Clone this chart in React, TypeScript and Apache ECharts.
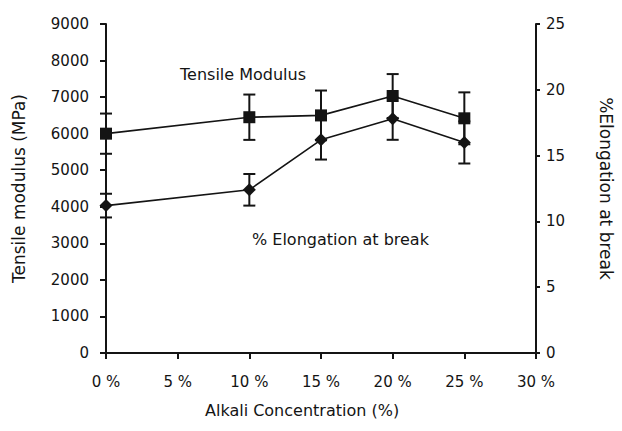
import React, { useEffect, useRef } from "react";
import * as echarts from "echarts";

const concentrations = [0, 10, 15, 20, 25];
const tensileModulus = [6000, 6450, 6500, 7030, 6420];
const tensileError = [550, 620, 680, 600, 710];
const elongation = [11.2, 12.4, 16.2, 17.8, 16.0];
const elongationError = [0.9, 1.2, 1.5, 1.6, 1.6];

const FONT = "DejaVu Sans, Liberation Sans, sans-serif";
const INK = "#141414";

function errorBarItem(params: any, api: any) {
  const x = api.value(0);
  const y = api.value(1);
  const e = api.value(2);
  const top = api.coord([x, y + e]);
  const bottom = api.coord([x, y - e]);
  const hw = 6;
  const style = { stroke: INK, lineWidth: 2 };
  return {
    type: "group",
    children: [
      { type: "line", shape: { x1: top[0], y1: top[1], x2: bottom[0], y2: bottom[1] }, style },
      { type: "line", shape: { x1: top[0] - hw, y1: top[1], x2: top[0] + hw, y2: top[1] }, style },
      { type: "line", shape: { x1: bottom[0] - hw, y1: bottom[1], x2: bottom[0] + hw, y2: bottom[1] }, style },
    ],
  };
}

export default function App() {
  const ref = useRef<HTMLDivElement>(null);
  useEffect(() => {
    if (!ref.current) return;
    const chart = echarts.init(ref.current, undefined, { renderer: "svg" });
    const axisLine = { show: true, lineStyle: { color: INK, width: 2 } };
    const axisTick = { show: true, length: 6, lineStyle: { color: INK, width: 2 } };
    const labelStyle = { color: INK, fontSize: 15, fontFamily: FONT };
    const nameStyle = { color: INK, fontSize: 17, fontFamily: FONT };
    chart.setOption({
      animation: false,
      backgroundColor: "#fff",
      grid: { left: 106, right: 69, top: 24, bottom: 78, containLabel: false },
      xAxis: {
        type: "value",
        min: 0,
        max: 30,
        interval: 5,
        axisLine,
        axisTick,
        splitLine: { show: false },
        axisLabel: { ...labelStyle, margin: 21, formatter: (v: number) => `${v} %` },
      },
      yAxis: [
        {
          type: "value",
          min: 0,
          max: 9000,
          interval: 1000,
          position: "left",
          axisLine,
          axisTick,
          splitLine: { show: false },
          axisLabel: { ...labelStyle, margin: 17, formatter: (v: number) => String(v) },
          name: "Tensile modulus (MPa)",
          nameLocation: "middle",
          nameRotate: 90,
          nameGap: 79,
          nameTextStyle: nameStyle,
        },
        {
          type: "value",
          min: 0,
          max: 25,
          interval: 5,
          position: "right",
          axisLine,
          axisTick: { ...axisTick, length: 4 },
          splitLine: { show: false },
          axisLabel: { ...labelStyle, margin: 10, formatter: (v: number) => String(v) },
          name: "%Elongation at break",
          nameLocation: "middle",
          nameRotate: -90,
          nameGap: 61,
          nameTextStyle: nameStyle,
        },
      ],
      series: [
        {
          type: "custom",
          name: "Tensile error",
          yAxisIndex: 0,
          renderItem: errorBarItem,
          data: concentrations.map((c, i) => [c, tensileModulus[i], tensileError[i]]),
          z: 1,
          silent: true,
        },
        {
          type: "custom",
          name: "Elongation error",
          yAxisIndex: 1,
          renderItem: errorBarItem,
          data: concentrations.map((c, i) => [c, elongation[i], elongationError[i]]),
          z: 1,
          silent: true,
        },
        {
          type: "line",
          name: "Tensile Modulus",
          yAxisIndex: 0,
          data: concentrations.map((c, i) => [c, tensileModulus[i]]),
          symbol: "rect",
          symbolSize: 12,
          lineStyle: { color: INK, width: 1.6 },
          itemStyle: { color: INK },
          z: 3,
        },
        {
          type: "line",
          name: "% Elongation at break",
          yAxisIndex: 1,
          data: concentrations.map((c, i) => [c, elongation[i]]),
          symbol: "diamond",
          symbolSize: 13,
          lineStyle: { color: INK, width: 1.6 },
          itemStyle: { color: INK },
          z: 3,
        },
      ],
      graphic: [
        {
          type: "text",
          left: 180,
          top: 66,
          style: { text: "Tensile Modulus", fill: INK, fontSize: 16, fontFamily: FONT },
        },
        {
          type: "text",
          left: 252,
          top: 231,
          style: { text: "% Elongation at break", fill: INK, fontSize: 16, fontFamily: FONT },
        },
        {
          type: "text",
          left: 205,
          top: 402,
          style: { text: "Alkali Concentration (%)", fill: INK, fontSize: 16, fontFamily: FONT },
        },
      ],
    });
    return () => chart.dispose();
  }, []);
  return <div ref={ref} style={{ width: 622, height: 431, position: "absolute", left: 0, top: 0 }} />;
}
